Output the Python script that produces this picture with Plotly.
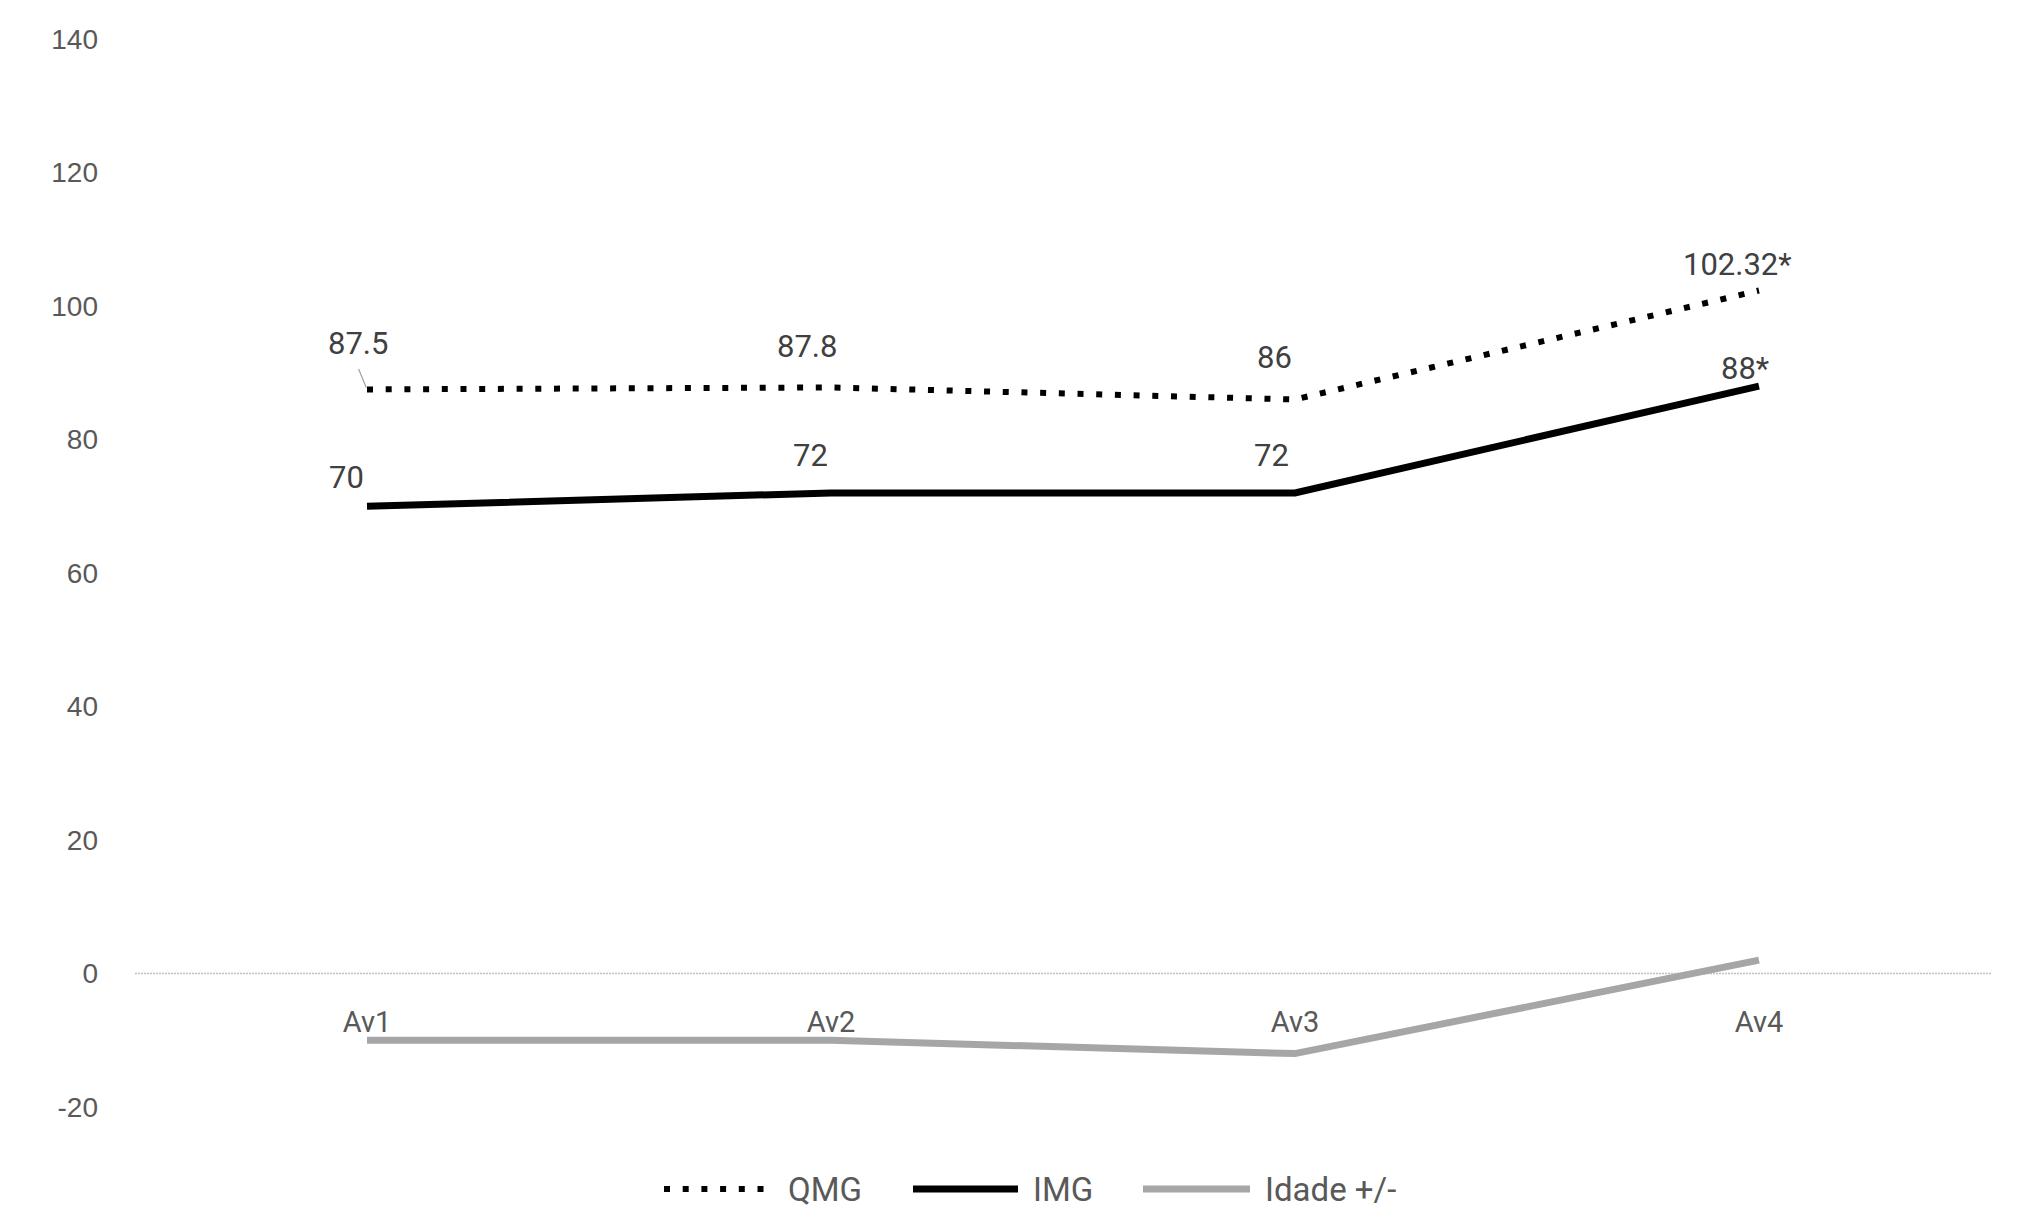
import plotly.graph_objects as go

categories = ["Av1", "Av2", "Av3", "Av4"]
qmg = [87.5, 87.8, 86, 102.32]
img = [70, 72, 72, 88]
idade = [-10, -10, -12, 2]
qmg_labels = ["87.5", "87.8", "86", "102.32*"]
img_labels = ["70", "72", "72", "88*"]
series_names = ["QMG", "IMG", "Idade +/-"]
y_ticks = [-20, 0, 20, 40, 60, 80, 100, 120, 140]
y_ticktext = ["-20", "0", "20", "40", "60", "80", "100", "120", "140"]

# label offsets (pixels) relative to each point
qmg_shift = [(-9, 46), (-24, 41), (-21, 42), (-22, 26)]
img_shift = [(-21, 29), (-21, 37), (-24, 37), (-14, 18)]

FONT = "Roboto, Arial"
DOT = "6px,12.7px"
W, H = 2021, 1219
ML, MR, MT, MB = 127, 38, 31, 120
PW, PH = W - ML - MR, H - MT - MB

styles = [dict(color="black", width=6, dash=DOT),
          dict(color="black", width=7),
          dict(color="#a6a6a6", width=7)]

fig = go.Figure()
for name, vals, st in zip(series_names, [qmg, img, idade], styles):
    fig.add_trace(go.Scatter(x=categories, y=vals, mode="lines", name=name,
                             line=st, showlegend=False))

for cat, v, lab, (dx, dy) in zip(categories, qmg, qmg_labels, qmg_shift):
    fig.add_annotation(x=cat, y=v, text=lab, showarrow=False, xshift=dx, yshift=dy,
                       font=dict(family=FONT, size=31, color="#404040"))
for cat, v, lab, (dx, dy) in zip(categories, img, img_labels, img_shift):
    fig.add_annotation(x=cat, y=v, text=lab, showarrow=False, xshift=dx, yshift=dy,
                       font=dict(family=FONT, size=31, color="#404040"))

# leader line for first QMG label
fig.add_annotation(x=categories[0], y=qmg[0], ax=-9, ay=-22, text="", showarrow=True,
                   arrowhead=0, arrowwidth=1.2, arrowcolor="#a0a0a0", standoff=2)

# zero line (dotted light gray)
fig.add_shape(type="line", xref="paper", x0=0, x1=1, yref="y", y0=0, y1=0,
              line=dict(color="#bfbfbf", width=1.5, dash="2px,1px"), layer="below")

# manual legend (page pixel positions -> paper coords)
def px(xp):
    return (xp - ML) / PW
def py(yp):
    return (MT + PH - yp) / PH

leg_y = 1181
leg_items = [(656, 759, 778), (905, 1010, 1023), (1135, 1242, 1255)]
for name, st, (x0, x1, xt) in zip(series_names, styles, leg_items):
    fig.add_shape(type="line", xref="paper", yref="paper", x0=px(x0), x1=px(x1),
                  y0=py(leg_y), y1=py(leg_y), line=st)
    fig.add_annotation(xref="paper", yref="paper", x=px(xt), y=py(leg_y), text=name,
                       showarrow=False, xanchor="left", yanchor="middle",
                       font=dict(family=FONT, size=33, color="#595959"))

ymin, ymax = -20, 140
fig.update_layout(
    width=W, height=H,
    margin=dict(l=ML, r=MR, t=MT, b=MB),
    plot_bgcolor="white", paper_bgcolor="white",
    showlegend=False,
    xaxis=dict(range=[-0.5, 3.5], showgrid=False, zeroline=False, showline=False,
               anchor="free", position=(0 - ymin) / (ymax - ymin),
               ticks="", ticklabelstandoff=28,
               tickfont=dict(family=FONT, size=29, color="#595959")),
    yaxis=dict(range=[ymin, ymax], tickvals=y_ticks, ticktext=y_ticktext,
               showgrid=False, zeroline=False,
               showline=False, ticks="", ticklabelstandoff=36,
               tickfont=dict(family="Liberation Sans, Arial", size=28, color="#595959")),
)

fig.write_html("out.html")
